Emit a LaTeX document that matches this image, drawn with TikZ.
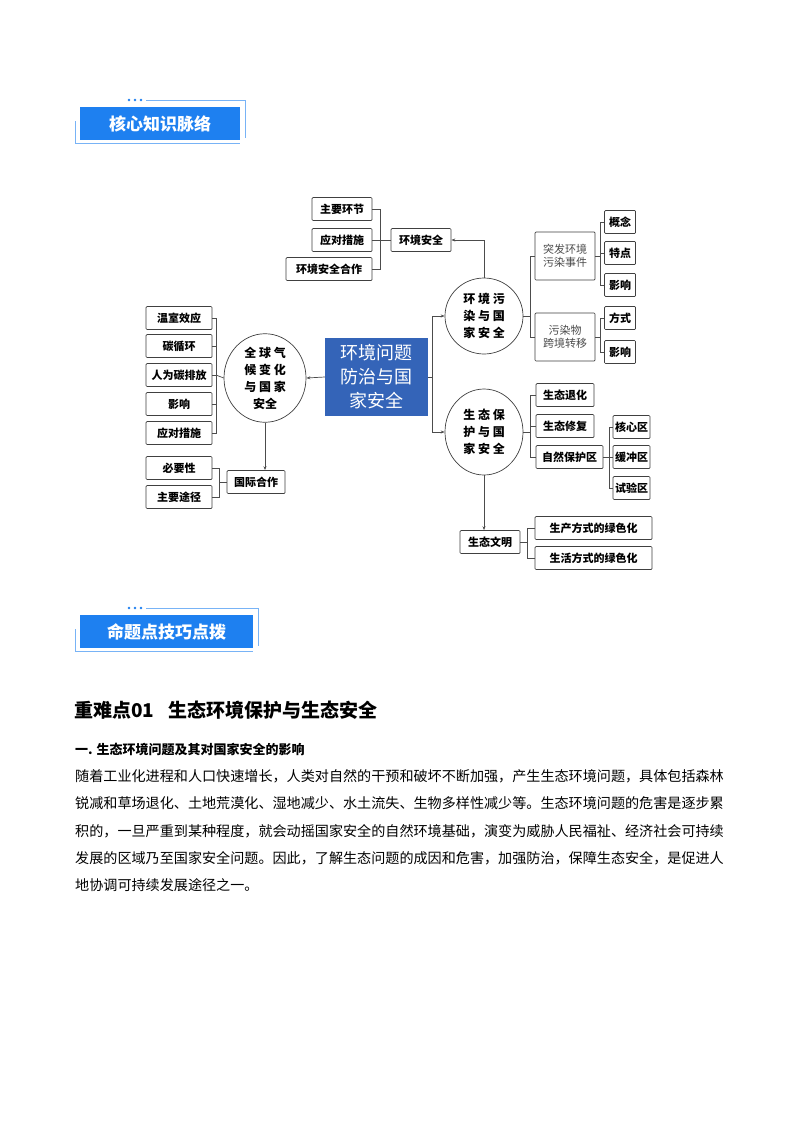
\documentclass[tikz,border=0pt]{standalone}
\usepackage{fontspec}
\newfontfamily\cjk{Noto Sans CJK SC}
\usetikzlibrary{arrows.meta}
\definecolor{hdr}{HTML}{1E80F0}
\definecolor{cen}{HTML}{3464B8}
\tikzset{
 bx/.style={draw=black!75,line width=0.7pt,rounded corners=1pt,inner sep=1pt,minimum height=23pt,font=\cjk\bfseries\fontsize{11}{13}\selectfont},
 rbx/.style={bx},
 circ/.style={draw=black!75,line width=0.7pt,ellipse,inner sep=0pt,minimum width=82pt,minimum height=84pt,font=\cjk\bfseries\fontsize{12}{17}\selectfont,align=center},
 ln/.style={black!70,line width=0.7pt},
 ar/.style={ln,-{Stealth[length=4pt,width=3pt]}},
 hbox/.style={fill=hdr,text=white,font=\cjk\bfseries\fontsize{17}{19}\selectfont,minimum height=33pt,inner sep=0pt},
 hline/.style={hdr!60,line width=0.8pt}
}
\usetikzlibrary{shapes.geometric}
\begin{document}
\begin{tikzpicture}[x=1pt,y=-1pt]
\useasboundingbox[fill=white] (0,0) rectangle (800,1132);
% headers
\node[hbox,minimum width=160pt] (h1) at (160,123.5) {核心知识脉络};
\draw[hline] (146,100) -- (245,100) -- (245,138);
\draw[hline] (75,121) -- (75,143) -- (240,143);
\foreach \x in {129,135,141} \fill[hdr] (\x,100) circle (1.3pt);
\node[hbox,minimum width=173pt] (h2) at (166.5,631.5) {命题点技巧点拨};
\draw[hline] (146,608) -- (258,608) -- (258,646);
\draw[hline] (75,629) -- (75,651) -- (253,651);
\foreach \x in {129,135,141} \fill[hdr] (\x,608) circle (1.3pt);
% center
\node[fill=cen,text=white,minimum width=103pt,minimum height=78pt,font=\cjk\fontsize{18}{24}\selectfont,align=center] (c) at (376.5,377) {环境问题\\防治与国\\家安全};
% left circle
\node[circ] (L) at (265,378) {全 球 气\\候 变 化\\与 国 家\\安全};
\foreach \n/\t/\y in {l1/温室效应/318,l2/碳循环/346,l3/人为碳排放/375,l4/影响/404,l5/应对措施/433}
  \node[bx,minimum width=66pt] (\n) at (179,\y) {\t};
\draw[ln] (l1.east) -- (216,318) -- (216,433) -- (l5.east);
\foreach \n in {l2,l3,l4} \draw[ln] (\n.east) -- (216,0|-\n.east);
\draw[ln] (216,375) -- (L.west);
\draw[ar] (c.west) -- (L.east);
\node[rbx,minimum width=58pt] (gj) at (256,482) {国际合作};
\draw[ar] (L.south) -- (L.south|-gj.north);
\node[bx,minimum width=66pt] (g1) at (179,468) {必要性};
\node[bx,minimum width=66pt] (g2) at (179,497) {主要途径};
\draw[ln] (g1.east) -- (219,468) -- (219,497) -- (g2.east);
\draw[ln] (219,482) -- (gj.west);
% top
\node[bx,minimum width=60pt] (t1) at (342,209) {主要环节};
\node[bx,minimum width=60pt] (t2) at (342,240) {应对措施};
\node[bx,minimum width=86pt] (t3) at (329,269) {环境安全合作};
\node[rbx,minimum width=60pt] (rs) at (421,240) {环境安全};
\draw[ln] (t1.east) -- (380,209) -- (380,269) -- (t3.east);
\draw[ln] (t2.east) -- (rs.west);
% right circles
\node[circ,minimum width=78pt,minimum height=76pt] (R1) at (484,316) {环 境 污\\染 与 国\\家 安 全};
\node[circ,minimum width=78pt,minimum height=86pt] (R2) at (484,432) {生 态 保\\护 与 国\\家 安 全};
\draw[ln] (c.east) -- (432,377);
\draw[ln] (432,316) -- (432,432);
\draw[ar] (432,316) -- (R1.west);
\draw[ar] (432,432) -- (R2.west);
\draw[ar] (R1.north) |- (rs.east);
% R1 branches
\node[bx,minimum width=60pt,minimum height=48pt,align=center,text=black!70,font=\cjk\fontsize{11}{13}\selectfont] (p1) at (565,256) {突发环境\\污染事件};
\node[bx,minimum width=60pt,minimum height=48pt,align=center,text=black!70,font=\cjk\fontsize{11}{13}\selectfont] (p2) at (565,337) {污染物\\跨境转移};
\draw[ln] (R1.east) -- (530,316);
\draw[ln] (p1.west) -- (530,256) -- (530,337) -- (p2.west);
\foreach \n/\t/\y in {a1/概念/222,a2/特点/253,a3/影响/285,b1/方式/318,b2/影响/352}
  \node[bx,minimum width=31pt] (\n) at (620,\y) {\t};
\draw[ln] (a1.west) -- (600,222) -- (600,285) -- (a3.west);
\draw[ln] (a2.west) -- (600,253);
\draw[ln] (p1.east) -- (600,256);
\draw[ln] (b1.west) -- (600,318) -- (600,352) -- (b2.west);
\draw[ln] (p2.east) -- (600,337);
% R2 branches
\node[bx,minimum width=58pt] (e1) at (565,395) {生态退化};
\node[bx,minimum width=58pt] (e2) at (565,426) {生态修复};
\node[bx,minimum width=67pt] (e3) at (569.5,457) {自然保护区};
\draw[ln] (R2.east) -- (530,432);
\draw[ln] (e1.west) -- (530,395) -- (530,457) -- (e3.west);
\draw[ln] (e2.west) -- (530,426);
\foreach \n/\t/\y in {z1/核心区/427,z2/缓冲区/457,z3/试验区/488}
  \node[bx,minimum width=37pt] (\n) at (631.5,\y) {\t};
\draw[ln] (z1.west) -- (609,427) -- (609,488) -- (z3.west);
\draw[ln] (e3.east) -- (z2.west);
\node[rbx,minimum width=60pt] (sw) at (490,542) {生态文明};
\draw[ar] (R2.south) -- (R2.south|-sw.north);
\node[bx,minimum width=117pt] (s1) at (593.5,528) {生产方式的绿色化};
\node[bx,minimum width=117pt] (s2) at (593.5,558) {生活方式的绿色化};
\draw[ln] (s1.west) -- (527,528) -- (527,558) -- (s2.west);
\draw[ln] (sw.east) -- (527,542);
% text
\node[anchor=west,font=\cjk\bfseries\fontsize{19}{22}\selectfont,inner sep=0pt] (t0) at (74,710) {重难点01\hspace{14pt}生态环境保护与生态安全};
\node[anchor=west,font=\cjk\bfseries\fontsize{13}{15}\selectfont,inner sep=0pt] (t1x) at (75,750) {一. 生态环境问题及其对国家安全的影响};
\tikzset{para/.style={anchor=west,font=\cjk\fontsize{14.1}{16}\selectfont,inner sep=0pt}}
\node[para] (q1) at (75,776) {随着工业化进程和人口快速增长，人类对自然的干预和破坏不断加强，产生生态环境问题，具体包括森林};
\node[para] (q2) at (75,803) {锐减和草场退化、土地荒漠化、湿地减少、水土流失、生物多样性减少等。生态环境问题的危害是逐步累};
\node[para] (q3) at (75,831) {积的，一旦严重到某种程度，就会动摇国家安全的自然环境基础，演变为威胁人民福祉、经济社会可持续};
\node[para] (q4) at (75,858) {发展的区域乃至国家安全问题。因此，了解生态问题的成因和危害，加强防治，保障生态安全，是促进人};
\node[para] (q5) at (75,885) {地协调可持续发展途径之一。};
\end{tikzpicture}
\end{document}
